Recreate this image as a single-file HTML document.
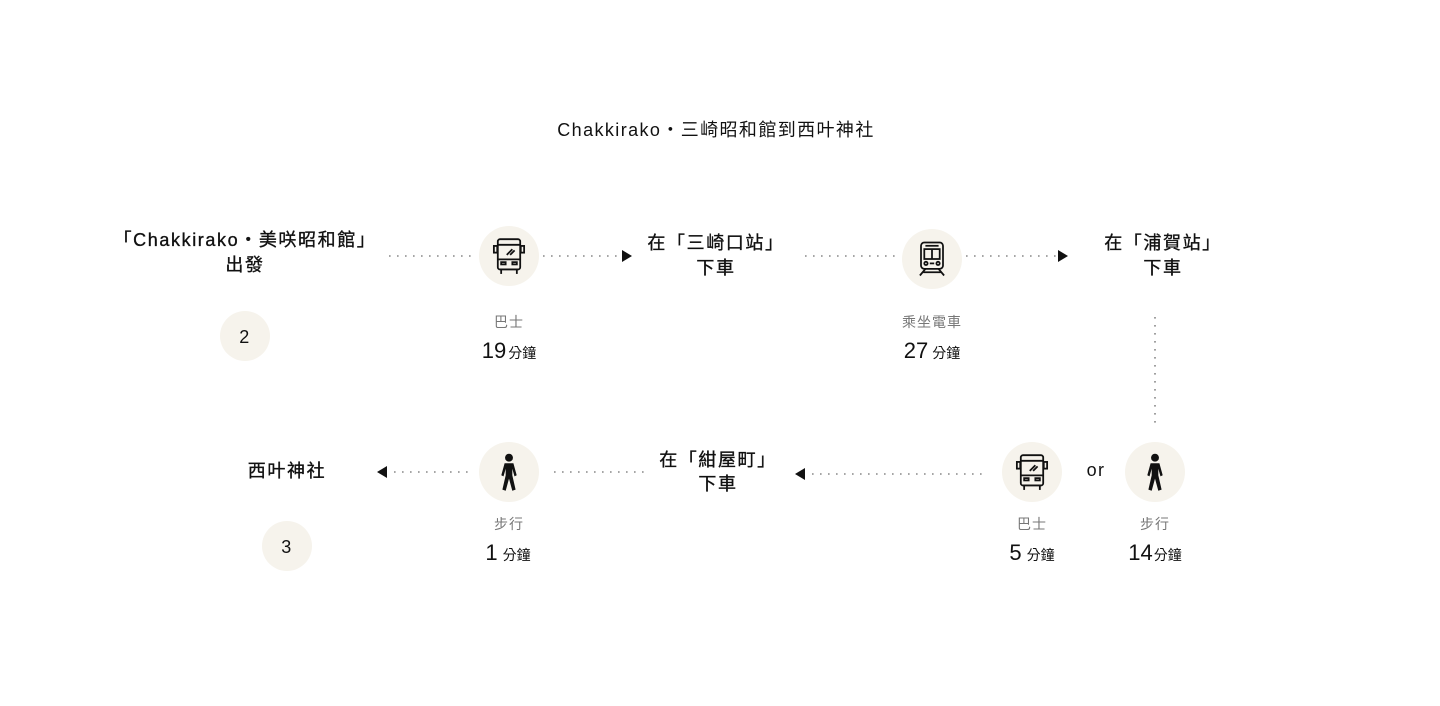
<!DOCTYPE html>
<html><head><meta charset="utf-8"><style>
html,body{margin:0;padding:0;background:#fff;}
svg{display:block;font-family:"Liberation Sans","Noto Sans CJK TC",sans-serif;}
.t{fill:#111;font-size:18px;letter-spacing:1.4px;text-anchor:middle;}
.n{fill:#111;font-size:18px;letter-spacing:1.6px;text-anchor:middle;stroke:#111;stroke-width:0.35;}
.g{fill:#777;font-size:14px;letter-spacing:1px;text-anchor:middle;}
.d{stroke:#888;stroke-width:1.6;stroke-dasharray:1.6 6.4;fill:none;}
.c{fill:#f6f3ec;}
.ic{fill:none;stroke:#111;stroke-width:1.6;}
</style></head><body>
<svg width="1440" height="706" viewBox="0 0 1440 706">
<text class="t" x="716" y="136">Chakkirako・三崎昭和館到西叶神社</text>

<text class="n" x="245" y="246">「Chakkirako・美咲昭和館」</text>
<text class="n" x="245" y="271">出發</text>
<text class="n" x="716" y="249">在「三崎口站」</text>
<text class="n" x="716" y="274">下車</text>
<text class="n" x="1163" y="249">在「浦賀站」</text>
<text class="n" x="1163" y="274">下車</text>

<circle class="c" cx="245" cy="336" r="25"/>
<text class="t" x="245" y="343">2</text>
<circle class="c" cx="287" cy="546" r="25"/>
<text class="t" x="287" y="553">3</text>

<line class="d" x1="389" y1="256" x2="472" y2="256"/>
<line class="d" x1="543" y1="256" x2="620" y2="256"/>
<polygon points="622,250 632,256 622,262" fill="#111"/>
<line class="d" x1="805" y1="256" x2="900" y2="256"/>
<line class="d" x1="966" y1="256" x2="1056" y2="256"/>
<polygon points="1058,250 1068,256 1058,262" fill="#111"/>
<line class="d" x1="1155" y1="317" x2="1155" y2="425"/>

<polygon points="387,466 377,472 387,478" fill="#111"/>
<line class="d" x1="394" y1="472" x2="469" y2="472"/>
<line class="d" x1="554" y1="472" x2="645" y2="472"/>
<polygon points="805,468 795,474 805,480" fill="#111"/>
<line class="d" x1="812" y1="474" x2="988" y2="474"/>

<circle class="c" cx="509" cy="256" r="30"/>
<g transform="translate(509,256) scale(1.12)">
<rect class="ic" x="-10" y="-15" width="20" height="27" rx="2"/>
<line class="ic" x1="-10" y1="-10" x2="10" y2="-10"/>
<line class="ic" x1="-10" y1="3" x2="10" y2="3"/>
<rect class="ic" x="-13.5" y="-9" width="3" height="6"/>
<rect class="ic" x="10.5" y="-9" width="3" height="6"/>
<line class="ic" x1="-2" y1="-1" x2="3" y2="-6" stroke-width="1"/>
<line class="ic" x1="1" y1="-1" x2="5" y2="-5" stroke-width="1"/>
<rect class="ic" x="-7" y="5.5" width="4" height="2" stroke-width="1.2"/>
<rect class="ic" x="3" y="5.5" width="4" height="2" stroke-width="1.2"/>
<line class="ic" x1="-7" y1="12" x2="-7" y2="16"/><line class="ic" x1="7" y1="12" x2="7" y2="16"/>
</g>
<text class="g" x="509" y="327">巴士</text>
<text x="509" y="358" text-anchor="middle" fill="#111"><tspan font-size="22">19</tspan><tspan font-size="14" dx="2">分鐘</tspan></text>

<circle class="c" cx="932" cy="259" r="30"/>
<g transform="translate(932,259) scale(1.1)">
<rect class="ic" x="-10" y="-15" width="20" height="24" rx="3"/>
<line class="ic" x1="-6" y1="-12" x2="6" y2="-12"/>
<rect class="ic" x="-7" y="-9" width="14" height="9"/>
<line class="ic" x1="0" y1="-9" x2="0" y2="0"/>
<circle class="ic" cx="-5.5" cy="4" r="1.5" stroke-width="1.2"/>
<circle class="ic" cx="5.5" cy="4" r="1.5" stroke-width="1.2"/>
<line class="ic" x1="-2" y1="4" x2="2" y2="4"/>
<line class="ic" x1="-6" y1="9" x2="-11" y2="15"/><line class="ic" x1="6" y1="9" x2="11" y2="15"/>
<line class="ic" x1="-8" y1="12" x2="8" y2="12"/>
</g>
<text class="g" x="932" y="327">乘坐電車</text>
<text x="932" y="358" text-anchor="middle" fill="#111"><tspan font-size="22">27</tspan><tspan font-size="14" dx="4">分鐘</tspan></text>

<text class="n" x="287" y="477">西叶神社</text>
<text class="n" x="718" y="466">在「紺屋町」</text>
<text class="n" x="718" y="490">下車</text>
<text class="t" x="1096" y="476">or</text>

<circle class="c" cx="509" cy="472" r="30"/>
<g transform="translate(509,472) scale(1.1)" fill="#111">
<circle cx="0" cy="-13" r="3.6"/>
<path d="M-4,-8 L4,-8 L7,3 L5,4 L3,-3 L3,3 L6,16 L3,17 L0,6 L-3,17 L-6,16 L-3,3 L-3,-3 L-5,4 L-7,3 Z"/>
</g>
<text class="g" x="509" y="529">步行</text>
<text x="508" y="560" text-anchor="middle" fill="#111"><tspan font-size="22">1</tspan><tspan font-size="14" dx="5">分鐘</tspan></text>

<circle class="c" cx="1032" cy="472" r="30"/>
<g transform="translate(1032,472) scale(1.12)">
<rect class="ic" x="-10" y="-15" width="20" height="27" rx="2"/>
<line class="ic" x1="-10" y1="-10" x2="10" y2="-10"/>
<line class="ic" x1="-10" y1="3" x2="10" y2="3"/>
<rect class="ic" x="-13.5" y="-9" width="3" height="6"/>
<rect class="ic" x="10.5" y="-9" width="3" height="6"/>
<line class="ic" x1="-2" y1="-1" x2="3" y2="-6" stroke-width="1"/>
<line class="ic" x1="1" y1="-1" x2="5" y2="-5" stroke-width="1"/>
<rect class="ic" x="-7" y="5.5" width="4" height="2" stroke-width="1.2"/>
<rect class="ic" x="3" y="5.5" width="4" height="2" stroke-width="1.2"/>
<line class="ic" x1="-7" y1="12" x2="-7" y2="16"/><line class="ic" x1="7" y1="12" x2="7" y2="16"/>
</g>
<text class="g" x="1032" y="529">巴士</text>
<text x="1032" y="560" text-anchor="middle" fill="#111"><tspan font-size="22">5</tspan><tspan font-size="14" dx="5">分鐘</tspan></text>

<circle class="c" cx="1155" cy="472" r="30"/>
<g transform="translate(1155,472) scale(1.1)" fill="#111">
<circle cx="0" cy="-13" r="3.6"/>
<path d="M-4,-8 L4,-8 L7,3 L5,4 L3,-3 L3,3 L6,16 L3,17 L0,6 L-3,17 L-6,16 L-3,3 L-3,-3 L-5,4 L-7,3 Z"/>
</g>
<text class="g" x="1155" y="529">步行</text>
<text x="1155" y="560" text-anchor="middle" fill="#111"><tspan font-size="22">14</tspan><tspan font-size="14" dx="1">分鐘</tspan></text>
</svg>
</body></html>
